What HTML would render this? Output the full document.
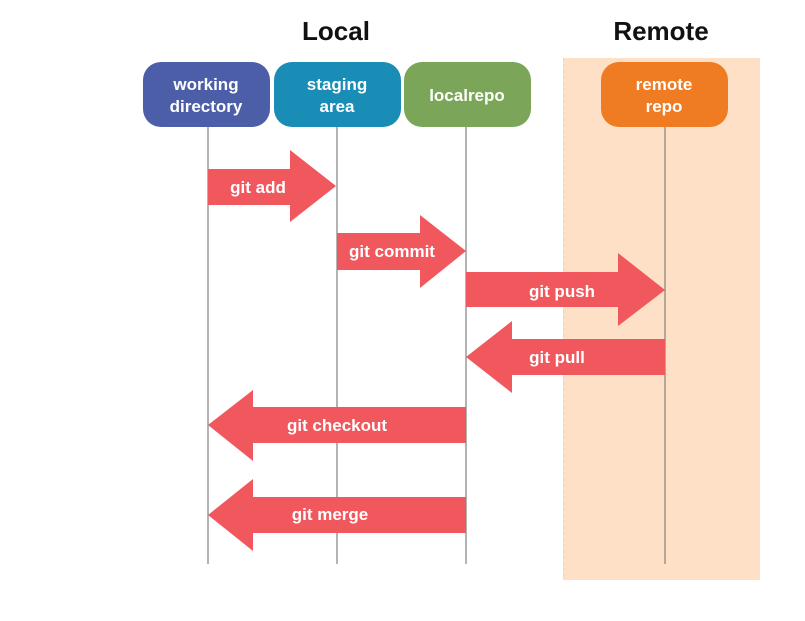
<!DOCTYPE html>
<html><head><meta charset="utf-8"><style>
html,body{margin:0;padding:0;background:#fff;}
body{width:805px;height:616px;overflow:hidden;}
</style></head><body>
<svg width="805" height="616" viewBox="0 0 805 616" xmlns="http://www.w3.org/2000/svg" font-family="Liberation Sans, DejaVu Sans, sans-serif">
<rect x="563" y="58" width="197" height="522" fill="#fde0c5"/>
<line x1="563.5" y1="58" x2="563.5" y2="580" stroke="#f5cdb0" stroke-width="1" stroke-dasharray="3,3"/>
<text x="336" y="40" font-size="26" font-weight="bold" text-anchor="middle" fill="#111">Local</text>
<text x="661" y="40" font-size="26" font-weight="bold" text-anchor="middle" fill="#111">Remote</text>
<g stroke="#8a8a8a" stroke-width="1.3">
<line x1="208" y1="127" x2="208" y2="564"/>
<line x1="337" y1="127" x2="337" y2="564"/>
<line x1="466" y1="127" x2="466" y2="564"/>
<line x1="665" y1="127" x2="665" y2="564"/>
</g>
<rect x="143" y="62" width="127" height="65" rx="18" fill="#4c5ea7"/>
<rect x="274" y="62" width="127" height="65" rx="18" fill="#1a8db7"/>
<rect x="404" y="62" width="127" height="65" rx="18" fill="#7ba65a"/>
<rect x="601" y="62" width="127" height="65" rx="18" fill="#ef7b22"/>
<g fill="#fff" font-size="17" font-weight="bold" text-anchor="middle">
<text x="206" y="90">working</text><text x="206" y="112">directory</text>
<text x="337" y="90">staging</text><text x="337" y="112">area</text>
<text x="467" y="101">localrepo</text>
<text x="664" y="90">remote</text><text x="664" y="112">repo</text>
</g>
<g fill="#f0585d">
<polygon points="208,169 290,169 290,150 336,186 290,222 290,205 208,205"/>
<polygon points="337,233 420,233 420,215 466,251 420,288 420,270 337,270"/>
<polygon points="466,272 618,272 618,253 665,290 618,326 618,307 466,307"/>
<polygon points="665,339 512,339 512,321 466,357 512,393 512,375 665,375"/>
<polygon points="466,407 253,407 253,390 208,425 253,461 253,443 466,443"/>
<polygon points="466,497 253,497 253,479 208,515 253,551 253,533 466,533"/>
</g>
<g fill="#fff" font-size="17" font-weight="bold" text-anchor="middle">
<text x="258" y="193">git add</text>
<text x="392" y="257">git commit</text>
<text x="562" y="297">git push</text>
<text x="557" y="363">git pull</text>
<text x="337" y="431">git checkout</text>
<text x="330" y="520">git merge</text>
</g>
</svg>
</body></html>
